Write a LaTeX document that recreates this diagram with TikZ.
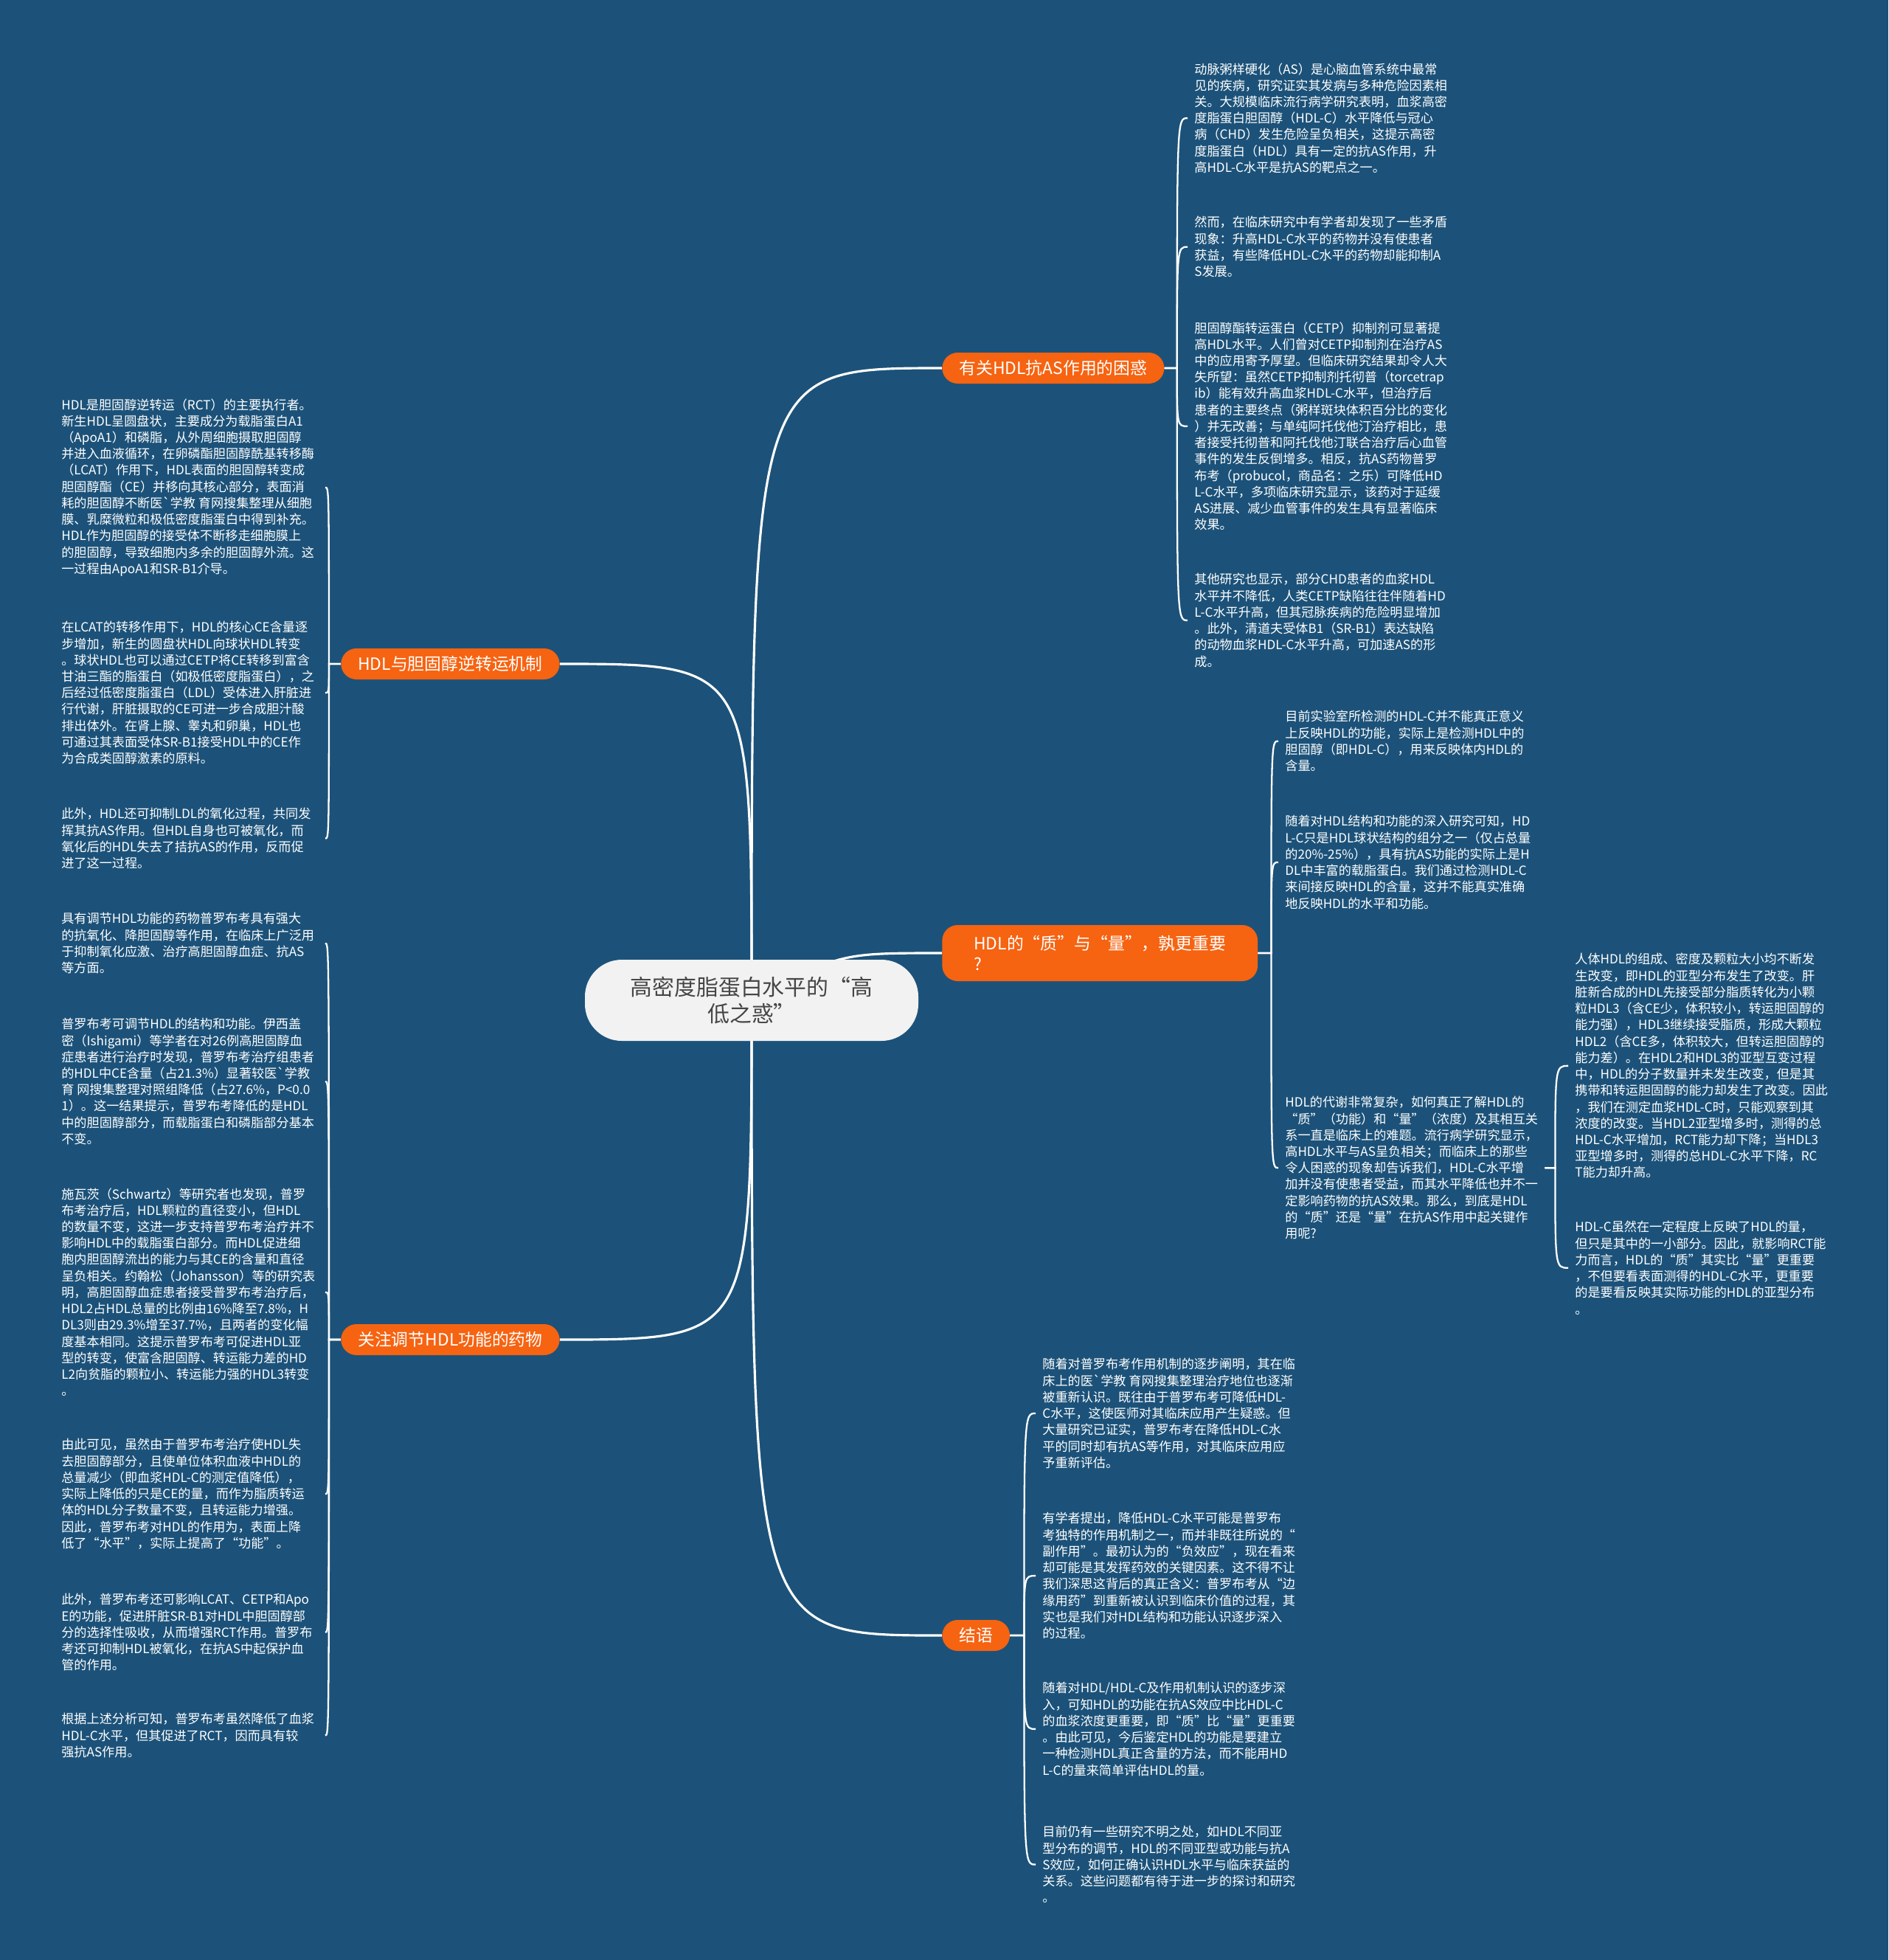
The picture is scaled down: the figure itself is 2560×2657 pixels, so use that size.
\documentclass[tikz,border=0pt]{standalone}
\usepackage{fontspec}
\newfontfamily\cjk{Noto Sans CJK SC}
\usetikzlibrary{backgrounds}
\definecolor{bgblue}{RGB}{28,82,121}
\definecolor{hdlorange}{RGB}{246,99,17}
\definecolor{rootgray}{RGB}{242,242,242}
\definecolor{roottext}{RGB}{70,70,70}

\begin{document}
\begin{tikzpicture}[x=0.2mm, y=-0.2mm,
  leaf/.style={anchor=north west, align=left, text=white, inner xsep=1.8mm, inner ysep=0pt,
    font=\cjk\fontsize{9.75}{12.65}\selectfont},
  branch/.style={fill=hdlorange, text=white, rounded corners=4.2mm, minimum height=8.4mm,
    inner xsep=4.6mm, inner ysep=1mm, font=\cjk\fontsize{13}{15.5}\selectfont},
  root/.style={fill=rootgray, text=roottext, rounded corners=10mm, minimum width=90.4mm,
    minimum height=22mm, align=center, font=\cjk\fontsize{17}{21}\selectfont},
  trunk/.style={white, line width=1.8pt},
  twig/.style={white, line width=1.3pt}]

  % page
  \useasboundingbox (0,0) rectangle (2560,2657);
  \begin{scope}[on background layer]
    \fill[bgblue] (0,0) rectangle (2560,2657);
  \end{scope}

  % centre and main branches
  \node[root] (root) at (1019,1356) {高密度脂蛋白水平的“高\\低之惑”};
  \node[branch, anchor=west] (b1) at (1277,499) {有关HDL抗AS作用的困惑};
  \node[branch, anchor=west, align=left, inner xsep=8.6mm, minimum height=15.2mm] (b2) at (1277,1292)
       {HDL的“质”与“量”，孰更重要\\?};
  \node[branch, anchor=west] (b3) at (1277,2217) {结语};
  \node[branch, anchor=east] (b4) at (759,900) {HDL与胆固醇逆转运机制};
  \node[branch, anchor=east] (b5) at (759,1816) {关注调节HDL功能的药物};

  % puzzle about HDL and AS
  \node[leaf] (a1) at (1610,85) {动脉粥样硬化（AS）是心脑血管系统中最常\\
见的疾病，研究证实其发病与多种危险因素相\\
关。大规模临床流行病学研究表明，血浆高密\\
度脂蛋白胆固醇（HDL-C）水平降低与冠心\\
病（CHD）发生危险呈负相关，这提示高密\\
度脂蛋白（HDL）具有一定的抗AS作用，升\\
高HDL-C水平是抗AS的靶点之一。};
  \node[leaf] (a2) at (1610,293) {然而，在临床研究中有学者却发现了一些矛盾\\
现象：升高HDL-C水平的药物并没有使患者\\
获益，有些降低HDL-C水平的药物却能抑制A\\
S发展。};
  \node[leaf] (a3) at (1610,436) {胆固醇酯转运蛋白（CETP）抑制剂可显著提\\
高HDL水平。人们曾对CETP抑制剂在治疗AS\\
中的应用寄予厚望。但临床研究结果却令人大\\
失所望：虽然CETP抑制剂托彻普（torcetrap\\
ib）能有效升高血浆HDL-C水平，但治疗后\\
患者的主要终点（粥样斑块体积百分比的变化\\
）并无改善；与单纯阿托伐他汀治疗相比，患\\
者接受托彻普和阿托伐他汀联合治疗后心血管\\
事件的发生反倒增多。相反，抗AS药物普罗\\
布考（probucol，商品名：之乐）可降低HD\\
L-C水平，多项临床研究显示，该药对于延缓\\
AS进展、减少血管事件的发生具有显著临床\\
效果。};
  \node[leaf] (a4) at (1610,777) {其他研究也显示，部分CHD患者的血浆HDL\\
水平并不降低，人类CETP缺陷往往伴随着HD\\
L-C水平升高，但其冠脉疾病的危险明显增加\\
。此外，清道夫受体B1（SR-B1）表达缺陷\\
的动物血浆HDL-C水平升高，可加速AS的形\\
成。};

  % quality or quantity
  \node[leaf] (q1) at (1733,963) {目前实验室所检测的HDL-C并不能真正意义\\
上反映HDL的功能，实际上是检测HDL中的\\
胆固醇（即HDL-C），用来反映体内HDL的\\
含量。};
  \node[leaf] (q2) at (1733,1105) {随着对HDL结构和功能的深入研究可知，HD\\
L-C只是HDL球状结构的组分之一（仅占总量\\
的20\%-25\%），具有抗AS功能的实际上是H\\
DL中丰富的载脂蛋白。我们通过检测HDL-C\\
来间接反映HDL的含量，这并不能真实准确\\
地反映HDL的水平和功能。};
  \node[leaf] (q3) at (1733,1486) {HDL的代谢非常复杂，如何真正了解HDL的\\
“质”（功能）和“量”（浓度）及其相互关\\
系一直是临床上的难题。流行病学研究显示，\\
高HDL水平与AS呈负相关；而临床上的那些\\
令人困惑的现象却告诉我们，HDL-C水平增\\
加并没有使患者受益，而其水平降低也并不一\\
定影响药物的抗AS效果。那么，到底是HDL\\
的“质”还是“量”在抗AS作用中起关键作\\
用呢?};
  \node[leaf] (c1) at (2126,1292) {人体HDL的组成、密度及颗粒大小均不断发\\
生改变，即HDL的亚型分布发生了改变。肝\\
脏新合成的HDL先接受部分脂质转化为小颗\\
粒HDL3（含CE少，体积较小，转运胆固醇的\\
能力强），HDL3继续接受脂质，形成大颗粒\\
HDL2（含CE多，体积较大，但转运胆固醇的\\
能力差）。在HDL2和HDL3的亚型互变过程\\
中，HDL的分子数量并未发生改变，但是其\\
携带和转运胆固醇的能力却发生了改变。因此\\
，我们在测定血浆HDL-C时，只能观察到其\\
浓度的改变。当HDL2亚型增多时，测得的总\\
HDL-C水平增加，RCT能力却下降；当HDL3\\
亚型增多时，测得的总HDL-C水平下降，RC\\
T能力却升高。};
  \node[leaf] (c2) at (2126,1655) {HDL-C虽然在一定程度上反映了HDL的量，\\
但只是其中的一小部分。因此，就影响RCT能\\
力而言，HDL的“质”其实比“量”更重要\\
，不但要看表面测得的HDL-C水平，更重要\\
的是要看反映其实际功能的HDL的亚型分布\\
。};

  % closing words
  \node[leaf] (d1) at (1404,1841) {随着对普罗布考作用机制的逐步阐明，其在临\\
床上的医`学教 育网搜集整理治疗地位也逐渐\\
被重新认识。既往由于普罗布考可降低HDL-\\
C水平，这使医师对其临床应用产生疑惑。但\\
大量研究已证实，普罗布考在降低HDL-C水\\
平的同时却有抗AS等作用，对其临床应用应\\
予重新评估。};
  \node[leaf] (d2) at (1404,2050) {有学者提出，降低HDL-C水平可能是普罗布\\
考独特的作用机制之一，而并非既往所说的“\\
副作用”。最初认为的“负效应”，现在看来\\
却可能是其发挥药效的关键因素。这不得不让\\
我们深思这背后的真正含义：普罗布考从“边\\
缘用药”到重新被认识到临床价值的过程，其\\
实也是我们对HDL结构和功能认识逐步深入\\
的过程。};
  \node[leaf] (d3) at (1404,2280) {随着对HDL/HDL-C及作用机制认识的逐步深\\
入，可知HDL的功能在抗AS效应中比HDL-C\\
的血浆浓度更重要，即“质”比“量”更重要\\
。由此可见，今后鉴定HDL的功能是要建立\\
一种检测HDL真正含量的方法，而不能用HD\\
L-C的量来简单评估HDL的量。};
  \node[leaf] (d4) at (1404,2475) {目前仍有一些研究不明之处，如HDL不同亚\\
型分布的调节，HDL的不同亚型或功能与抗A\\
S效应，如何正确认识HDL水平与临床获益的\\
关系。这些问题都有待于进一步的探讨和研究\\
。};

  % reverse cholesterol transport
  \node[leaf] (e1) at (74,540) {HDL是胆固醇逆转运（RCT）的主要执行者。\\
新生HDL呈圆盘状，主要成分为载脂蛋白A1\\
（ApoA1）和磷脂，从外周细胞摄取胆固醇\\
并进入血液循环，在卵磷酯胆固醇酰基转移酶\\
（LCAT）作用下，HDL表面的胆固醇转变成\\
胆固醇酯（CE）并移向其核心部分，表面消\\
耗的胆固醇不断医`学教 育网搜集整理从细胞\\
膜、乳糜微粒和极低密度脂蛋白中得到补充。\\
HDL作为胆固醇的接受体不断移走细胞膜上\\
的胆固醇，导致细胞内多余的胆固醇外流。这\\
一过程由ApoA1和SR-B1介导。};
  \node[leaf] (e2) at (74,842) {在LCAT的转移作用下，HDL的核心CE含量逐\\
步增加，新生的圆盘状HDL向球状HDL转变\\
。球状HDL也可以通过CETP将CE转移到富含\\
甘油三酯的脂蛋白（如极低密度脂蛋白），之\\
后经过低密度脂蛋白（LDL）受体进入肝脏进\\
行代谢，肝脏摄取的CE可进一步合成胆汁酸\\
排出体外。在肾上腺、睾丸和卵巢，HDL也\\
可通过其表面受体SR-B1接受HDL中的CE作\\
为合成类固醇激素的原料。};
  \node[leaf] (e3) at (74,1095) {此外，HDL还可抑制LDL的氧化过程，共同发\\
挥其抗AS作用。但HDL自身也可被氧化，而\\
氧化后的HDL失去了拮抗AS的作用，反而促\\
进了这一过程。};

  % drugs that tune HDL
  \node[leaf] (f1) at (74,1237) {具有调节HDL功能的药物普罗布考具有强大\\
的抗氧化、降胆固醇等作用，在临床上广泛用\\
于抑制氧化应激、治疗高胆固醇血症、抗AS\\
等方面。};
  \node[leaf] (f2) at (74,1380) {普罗布考可调节HDL的结构和功能。伊西盖\\
密（Ishigami）等学者在对26例高胆固醇血\\
症患者进行治疗时发现，普罗布考治疗组患者\\
的HDL中CE含量（占21.3\%）显著较医`学教\\
育 网搜集整理对照组降低（占27.6\%，P<0.0\\
1）。这一结果提示，普罗布考降低的是HDL\\
中的胆固醇部分，而载脂蛋白和磷脂部分基本\\
不变。};
  \node[leaf] (f3) at (74,1610) {施瓦茨（Schwartz）等研究者也发现，普罗\\
布考治疗后，HDL颗粒的直径变小，但HDL\\
的数量不变，这进一步支持普罗布考治疗并不\\
影响HDL中的载脂蛋白部分。而HDL促进细\\
胞内胆固醇流出的能力与其CE的含量和直径\\
呈负相关。约翰松（Johansson）等的研究表\\
明，高胆固醇血症患者接受普罗布考治疗后，\\
HDL2占HDL总量的比例由16\%降至7.8\%，H\\
DL3则由29.3\%增至37.7\%，且两者的变化幅\\
度基本相同。这提示普罗布考可促进HDL亚\\
型的转变，使富含胆固醇、转运能力差的HD\\
L2向贫脂的颗粒小、转运能力强的HDL3转变\\
。};
  \node[leaf] (f4) at (74,1950) {由此可见，虽然由于普罗布考治疗使HDL失\\
去胆固醇部分，且使单位体积血液中HDL的\\
总量减少（即血浆HDL-C的测定值降低），\\
实际上降低的只是CE的量，而作为脂质转运\\
体的HDL分子数量不变，且转运能力增强。\\
因此，普罗布考对HDL的作用为，表面上降\\
低了“水平”，实际上提高了“功能”。};
  \node[leaf] (f5) at (74,2160) {此外，普罗布考还可影响LCAT、CETP和Apo\\
E的功能，促进肝脏SR-B1对HDL中胆固醇部\\
分的选择性吸收，从而增强RCT作用。普罗布\\
考还可抑制HDL被氧化，在抗AS中起保护血\\
管的作用。};
  \node[leaf] (f6) at (74,2322) {根据上述分析可知，普罗布考虽然降低了血浆\\
HDL-C水平，但其促进了RCT，因而具有较\\
强抗AS作用。};

  % fork points
  \coordinate (s1) at ([xshift=3.4mm]b1.east);
  \coordinate (s2) at ([xshift=3.6mm]b2.east);
  \coordinate (s3) at ([xshift=2.8mm]q3.east);
  \coordinate (s4) at ([xshift=3.8mm]b3.east);
  \coordinate (s5) at ([xshift=-3.2mm]b4.west);
  \coordinate (s6) at ([xshift=-3.2mm]b5.west);
  \coordinate (k2) at ([xshift=24mm]root.center);
  \coordinate (hl) at (441,0);

  % connectors, under the nodes
  \begin{scope}[on background layer]
    \foreach \b in {b1,b3}
      \draw[trunk] (root.center) .. controls (root.center |- \b.west) .. (\b.west);
    \draw[trunk] (root.center) .. controls (k2 |- b2.west) .. (b2.west);
    \foreach \b in {b4,b5}
      \draw[trunk] (root.center) .. controls (root.center |- \b.east) .. (\b.east);
    \foreach \n in {a1,a2,a3,a4}
      \draw[twig] (b1.east) -- (s1) .. controls (s1 |- \n.west) .. (\n.west);
    \foreach \n in {q1,q2,q3}
      \draw[twig] (b2.east) -- (s2) .. controls (s2 |- \n.west) .. (\n.west);
    \foreach \n in {c1,c2}
      \draw[twig] (q3.east) -- (s3) .. controls (s3 |- \n.west) .. (\n.west);
    \foreach \n in {d1,d2,d3,d4}
      \draw[twig] (b3.east) -- (s4) .. controls (s4 |- \n.west) .. (\n.west);
    \foreach \n in {e1,e2,e3}
      \draw[twig] (b4.west) -- (s5) .. controls (s5 |- \n.east) .. (\n.east -| hl);
    \foreach \n in {f1,f2,f3,f4,f5,f6}
      \draw[twig] (b5.west) -- (s6) .. controls (s6 |- \n.east) .. (\n.east -| hl);
  \end{scope}

\end{tikzpicture}
\end{document}
